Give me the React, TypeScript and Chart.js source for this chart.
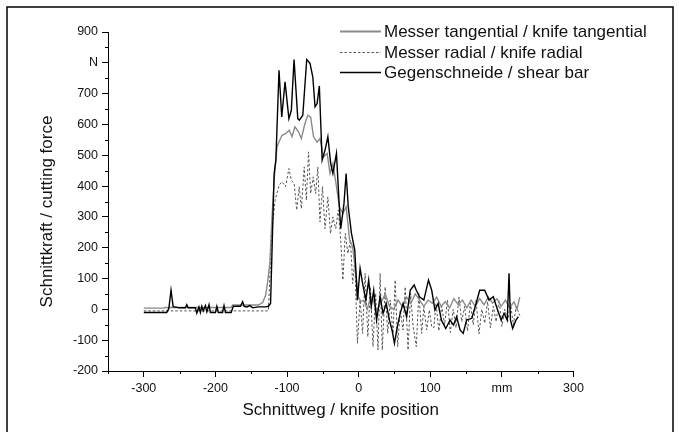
import { useEffect, useRef } from 'react';
import { Chart, registerables } from 'chart.js';

Chart.register(...registerables);

const FONT = '"Liberation Sans", Arial, Helvetica, sans-serif';

const seriesLabels = [
  'Messer tangential / knife tangential',
  'Messer radial / knife radial',
  'Gegenschneide / shear bar',
];
const xTitle = 'Schnittweg / knife position';
const yTitle = 'Schnittkraft / cutting force';

const xTickValues = [-300, -200, -100, 0, 100, 200, 300];
const xMinorValues = [-350, -250, -150, -50, 50, 150, 250];
const yTickValues = [-200, -100, 0, 100, 200, 300, 400, 500, 600, 700, 800, 900];
const yMinorValues = [-150, -50, 50, 150, 250, 350, 450, 550, 650, 750, 850];
const xUnitAt = 200;
const yUnitAt = 800;

const tangentialX = [-300, -272, -270, -240, -178, -176, -140, -134, -130, -127, -124, -121, -118, -114, -111, -107, -102, -97, -93, -89, -84, -80, -75, -71, -67, -63, -58, -54, -49, -44, -40, -36, -31, -27, -22, -17.5, -12.6, -8.4, -4, -0.5, 3, 7, 12, 16, 19, 25, 31, 37, 43, 49, 55, 61, 67, 73, 79, 85, 91, 97, 103, 109, 115, 121, 127, 133, 139, 145, 151, 157, 163, 169, 175, 181, 187, 193, 199, 205, 211, 217, 221, 225];
const tangentialY = [4, 4, 6, 6, 6, 14, 14, 22, 45, 90, 150, 300, 420, 527, 545, 565, 570, 581, 560, 592, 576, 554, 603, 630, 624, 560, 543, 554, 495, 506, 441, 473, 398, 333, 311, 333, 225, 203, 117, 41, 25, 30, 0, 35, 41, -5, 20, 50, 10, 0, 30, 10, 40, 20, 50, 30, 10, 30, 20, 40, 10, 25, 5, 35, 15, 30, 5, 30, 10, 35, 15, 40, 20, 35, 10, 30, 5, 25, 0, 40];

const radialX = [-300, -126, -121.5, -116.7, -111, -107, -102, -97.4, -94, -90, -86.5, -83, -80, -76, -73, -70, -67, -63.5, -60, -57, -54, -50.5, -47, -43, -39.3, -36, -32, -28.4, -25, -22, -18.7, -15, -11.4, -8.4, -5.4, -1.7, 2, 5.5, 9, 12.8, 16.4, 20, 23.7, 27, 30, 33, 37, 40.6, 44, 48, 51, 54.5, 58, 62, 65, 69, 72.6, 76, 80.5, 84, 88, 91, 95, 98.7, 102, 105, 108, 112, 116, 120, 124, 128, 132, 136, 140, 144, 148, 152, 156, 160, 164, 168, 172, 176, 180, 184, 188, 192, 196, 200, 204, 208, 212, 216, 220, 225];
const radialY = [-5, -5, 246, 354, 403, 414, 398, 457, 419, 408, 322, 398, 327, 462, 354, 511, 376, 430, 376, 462, 284, 398, 262, 365, 246, 300, 262, 322, 225, 95, 246, 181, 225, 84, 160, -110, 30, -78, 117, -89, 73, -121, 52, -132, 117, -132, 73, -78, 30, -78, 95, -121, -2, -67, 73, -132, 52, -56, -121, 52, -78, 9, -67, -2, -56, -60, 20, -70, 10, -50, 30, -75, 0, -60, 40, -40, 10, -70, 20, -50, 30, -80, 0, -45, 25, -60, 10, -40, 30, -55, 0, -40, 20, -50, 10, -20];

const shearX = [-300, -268, -265, -262, -259, -250, -242, -240, -238, -228, -226, -223, -221, -219, -217, -214, -212, -209, -207, -200, -198, -196, -190, -188, -186, -178, -175, -165, -162, -160, -156, -152, -148, -140, -130, -126, -123, -118, -115.6, -111.2, -107.4, -102.8, -97.4, -94, -90.2, -85, -82.8, -78, -72.5, -67.9, -64, -60.9, -58, -54.9, -51, -47, -43, -39, -36, -31, -27.5, -25, -20.5, -17.5, -14.5, -10, -5.4, -1.7, 2, 5.5, 10, 14, 17.6, 21, 25, 30, 34, 38.5, 43, 46.6, 50, 54, 58, 62, 67, 72, 77.5, 80.5, 85, 91, 97.5, 102, 106.5, 111, 115.6, 121.6, 127.7, 132.5, 136.8, 141.6, 146, 150.7, 158, 164, 169, 176, 182, 188, 194, 199, 203, 207.5, 210, 212, 215, 219.6, 223];
const shearY = [-10, -10, 3, 62, 9, 5, 5, 15, 5, 5, -12, 8, -10, 10, -5, 12, -8, 15, -10, -10, 10, -10, -10, 12, -10, -10, 10, 10, 25, 10, 8, 12, 5, 8, 8, 10, 19, 441, 484, 776, 624, 738, 619, 646, 811, 619, 614, 630, 811, 798, 754, 657, 668, 725, 484, 516, 560, 473, 441, 506, 354, 262, 343, 441, 332, 246, 192, 30, 133, 84, 30, 95, 9, 62, -35, 41, -13, 19, -35, -67, -110, -56, -13, 19, -24, 62, 79, 62, 41, 30, 95, 62, -2, 19, -35, -62, -35, -51, -24, -67, -78, -35, -29, 19, 62, 62, 30, 41, -2, -35, -13, -35, 117, -35, -62, -35, -24];

const seriesColors = ['#8a8a8a', '#555555', '#000000'];
const seriesWidths = [1.4, 1, 1.4];
const seriesDash = [[], [2.5, 2], []];

const toPoints = (xs: number[], ys: number[]) => xs.map((x, i) => ({ x, y: ys[i] }));

const framePlugin = {
  id: 'frame',
  afterDraw(chart: any) {
    const ctx = chart.ctx;
    ctx.save();
    ctx.strokeStyle = '#000';
    ctx.lineWidth = 1.5;
    ctx.strokeRect(7, 7, 666, 440);
    ctx.restore();
  },
};

const yTitlePlugin = {
  id: 'yTitle',
  afterDraw(chart: any) {
    const ctx = chart.ctx;
    const area = chart.chartArea;
    ctx.save();
    ctx.translate(47.5, (area.top + area.bottom) / 2 + 10);
    ctx.rotate(-Math.PI / 2);
    ctx.font = `17px ${FONT}`;
    ctx.fillStyle = '#111';
    ctx.textAlign = 'center';
    ctx.textBaseline = 'middle';
    ctx.fillText(yTitle, 0, 0);
    ctx.restore();
  },
};

const minorTicksPlugin = {
  id: 'minorTicks',
  afterDraw(chart: any) {
    const ctx = chart.ctx;
    const xs = chart.scales.x;
    const ys = chart.scales.y;
    const area = chart.chartArea;
    ctx.save();
    ctx.strokeStyle = '#000';
    ctx.lineWidth = 1;
    ctx.beginPath();
    xMinorValues.forEach((v) => {
      const px = Math.round(xs.getPixelForValue(v)) + 0.5;
      ctx.moveTo(px, area.bottom);
      ctx.lineTo(px, area.bottom + 3);
    });
    yMinorValues.forEach((v) => {
      const py = Math.round(ys.getPixelForValue(v)) + 0.5;
      ctx.moveTo(area.left, py);
      ctx.lineTo(area.left - 3, py);
    });
    ctx.stroke();
    ctx.restore();
  },
};

const legendPlugin = {
  id: 'customLegend',
  afterDraw(chart: any) {
    const ctx = chart.ctx;
    const area = chart.chartArea;
    const lineStart = area.left + 232;
    const lineEnd = area.left + 273;
    const textX = area.left + 276;
    const rowYs = [area.top - 1, area.top + 20, area.top + 40];
    ctx.save();
    ctx.font = `17px ${FONT}`;
    ctx.textBaseline = 'middle';
    ctx.textAlign = 'left';
    seriesLabels.forEach((label, i) => {
      const y = rowYs[i] + 0.5;
      ctx.strokeStyle = seriesColors[i];
      ctx.lineWidth = i === 0 ? 2 : seriesWidths[i] + (i === 2 ? 0.3 : 0);
      ctx.setLineDash(seriesDash[i]);
      ctx.beginPath();
      ctx.moveTo(lineStart, y);
      ctx.lineTo(lineEnd, y);
      ctx.stroke();
      ctx.setLineDash([]);
      ctx.fillStyle = '#111';
      ctx.fillText(label, textX, rowYs[i] + 1);
    });
    ctx.restore();
  },
};

export default function App() {
  const canvasRef = useRef<HTMLCanvasElement | null>(null);

  useEffect(() => {
    if (!canvasRef.current) return;
    const chart = new Chart(canvasRef.current, {
      type: 'line',
      data: {
        datasets: [
          {
            label: seriesLabels[0],
            data: toPoints(tangentialX, tangentialY),
            borderColor: seriesColors[0],
            borderWidth: seriesWidths[0],
            borderDash: seriesDash[0],
            pointRadius: 0,
            tension: 0,
            order: 1,
          },
          {
            label: seriesLabels[1],
            data: toPoints(radialX, radialY),
            borderColor: seriesColors[1],
            borderWidth: seriesWidths[1],
            borderDash: seriesDash[1],
            pointRadius: 0,
            tension: 0,
            order: 2,
          },
          {
            label: seriesLabels[2],
            data: toPoints(shearX, shearY),
            borderColor: seriesColors[2],
            borderWidth: seriesWidths[2],
            borderDash: seriesDash[2],
            pointRadius: 0,
            tension: 0,
            order: 0,
          },
        ],
      },
      options: {
        responsive: false,
        animation: false,
        parsing: false as any,
        layout: { padding: { left: 0, right: 105.5, top: 32, bottom: 0 } },
        plugins: { legend: { display: false }, tooltip: { enabled: false } },
        scales: {
          x: {
            type: 'linear',
            min: -350,
            max: 300,
            afterBuildTicks: (scale: any) => {
              scale.ticks = xTickValues.map((value) => ({ value }));
            },
            afterFit: (scale: any) => {
              scale.height = 61;
            },
            ticks: {
              color: '#111',
              font: { family: FONT, size: 12.5 },
              padding: 4,
              maxRotation: 0,
              autoSkip: false,
              callback: (v: any) => (v === xUnitAt ? 'mm' : String(v)),
            },
            grid: { drawOnChartArea: false, drawTicks: true, tickLength: 6, color: '#000', lineWidth: 1 },
            border: { display: true, color: '#000', width: 1 },
            title: {
              display: true,
              text: xTitle,
              color: '#111',
              font: { family: FONT, size: 17 },
              padding: { top: 0, bottom: 11 },
            },
          },
          y: {
            type: 'linear',
            min: -200,
            max: 900,
            afterBuildTicks: (scale: any) => {
              scale.ticks = yTickValues.map((value) => ({ value }));
            },
            afterFit: (scale: any) => {
              scale.width = 108;
            },
            ticks: {
              color: '#111',
              font: { family: FONT, size: 12.5 },
              padding: 4,
              autoSkip: false,
              callback: (v: any) => (v === yUnitAt ? 'N' : String(v)),
            },
            grid: { drawOnChartArea: false, drawTicks: true, tickLength: 6, color: '#000', lineWidth: 1 },
            border: { display: true, color: '#000', width: 1 },
            title: { display: false },
          },
        },
      },
      plugins: [framePlugin, minorTicksPlugin, legendPlugin, yTitlePlugin],
    });
    return () => chart.destroy();
  }, []);

  return (
    <div style={{ position: 'fixed', left: 0, top: 0, width: 679, height: 432, background: '#fff' }}>
      <canvas ref={canvasRef} width={679} height={432} style={{ display: 'block' }} />
    </div>
  );
}
